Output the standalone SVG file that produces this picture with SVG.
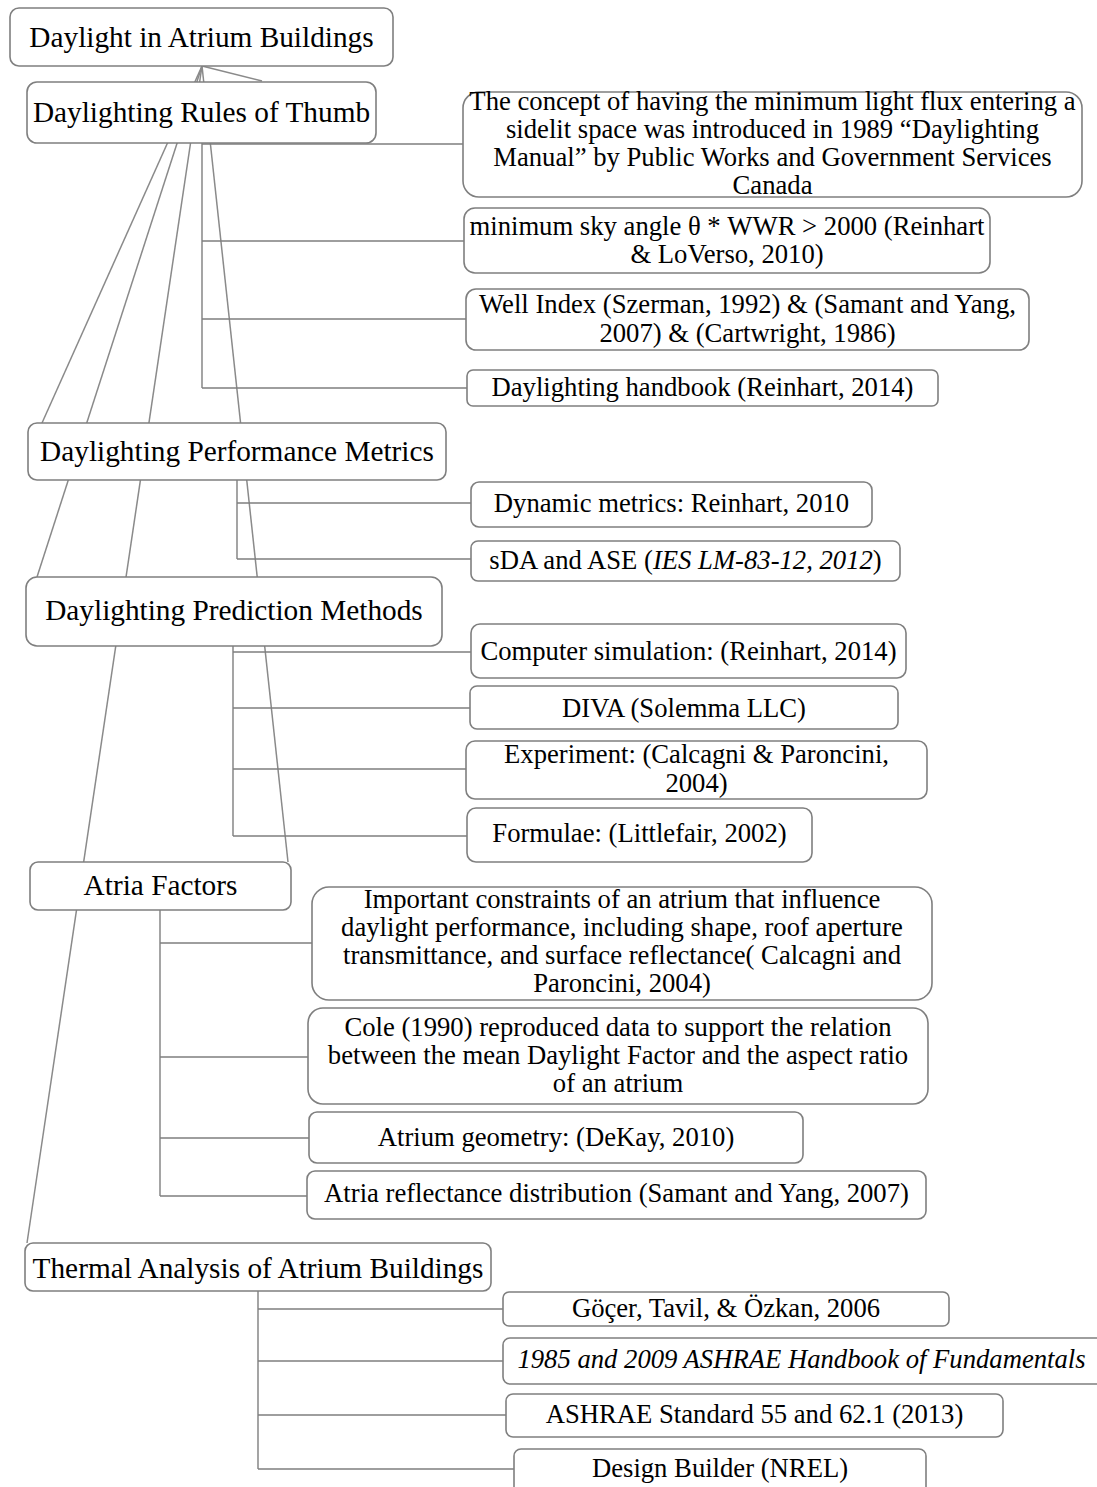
<svg xmlns="http://www.w3.org/2000/svg" width="1097" height="1487" viewBox="0 0 1097 1487">
<style>
.bg{fill:#ffffff}
.box{fill:#ffffff;stroke:#7f7f7f;stroke-width:1.6}
.ln{fill:none;stroke:#7f7f7f;stroke-width:1.4}
.fan{fill:none;stroke:#8a8a8a;stroke-width:1.5}
.t1{font-family:"Liberation Serif","Times New Roman",serif;font-size:29.3px;fill:#000;text-anchor:middle}
.t2{font-family:"Liberation Serif","Times New Roman",serif;font-size:26.67px;fill:#000;text-anchor:middle}
.it{font-style:italic}
</style>
<rect class="bg" x="0" y="0" width="1097" height="1487"/>
<g id="connectors">
  <line class="fan" x1="202" y1="66" x2="262" y2="81"/>
  <line class="fan" x1="202" y1="66" x2="42" y2="423" stroke-width="1.9" stroke="#9a9a9a"/>
  <line class="fan" x1="202" y1="66" x2="37" y2="577"/>
  <line class="fan" x1="202" y1="66" x2="27" y2="1243"/>
  <line class="fan" x1="202" y1="66" x2="288" y2="862"/>
  <path class="ln" d="M202 143 V388 M202 144 H463 M202 241 H464 M202 319 H466 M202 388 H467"/>
  <path class="ln" d="M237 480 V559 M237 503 H471 M237 559 H471"/>
  <path class="ln" d="M233 646 V836 M233 652 H471 M233 708 H470 M233 769 H466 M233 836 H467"/>
  <path class="ln" d="M160 910 V1196 M160 943 H312 M160 1057 H308 M160 1138 H309 M160 1196 H307"/>
  <path class="ln" d="M258 1291 V1469 M258 1309 H503 M258 1361 H503 M258 1415 H506 M258 1469 H514"/>
</g>
<g id="root">
  <rect class="box" x="10" y="8" width="383" height="58" rx="9"/>
  <text class="t1" x="201.5" y="47">Daylight in Atrium Buildings</text>
</g>
<g id="rules">
  <rect class="box" x="27" y="82" width="349" height="61" rx="10"/>
  <text class="t1" x="201.5" y="122">Daylighting Rules of Thumb</text>
</g>
<g id="rules-concept">
  <rect class="box" x="463" y="92" width="619" height="105" rx="16"/>
  <text class="t2"><tspan x="772.5" y="110">The concept of having the minimum light flux entering a</tspan><tspan x="772.5" y="138">sidelit space was introduced in 1989 “Daylighting</tspan><tspan x="772.5" y="166">Manual” by Public Works and Government Services</tspan><tspan x="772.5" y="194">Canada</tspan></text>
</g>
<g id="rules-sky">
  <rect class="box" x="464" y="208" width="526" height="65" rx="11"/>
  <text class="t2"><tspan x="727" y="235">minimum sky angle θ * WWR &gt; 2000 (Reinhart</tspan><tspan x="727" y="263">&amp; LoVerso, 2010)</tspan></text>
</g>
<g id="rules-well">
  <rect class="box" x="466" y="289" width="563" height="61" rx="10"/>
  <text class="t2"><tspan x="747.5" y="313">Well Index (Szerman, 1992) &amp; (Samant and Yang,</tspan><tspan x="747.5" y="342">2007) &amp; (Cartwright, 1986)</tspan></text>
</g>
<g id="rules-handbook">
  <rect class="box" x="467" y="370" width="471" height="36" rx="6"/>
  <text class="t2" x="702.5" y="396">Daylighting handbook (Reinhart, 2014)</text>
</g>
<g id="perf">
  <rect class="box" x="28" y="423" width="418" height="57" rx="9"/>
  <text class="t1" x="237" y="461">Daylighting Performance Metrics</text>
</g>
<g id="perf-dynamic">
  <rect class="box" x="471" y="482" width="401" height="45" rx="8"/>
  <text class="t2" x="671.5" y="512">Dynamic metrics: Reinhart, 2010</text>
</g>
<g id="perf-sda">
  <rect class="box" x="471" y="541" width="429" height="40" rx="7"/>
  <text class="t2" x="685.5" y="569">sDA and ASE (<tspan class="it">IES LM-83-12, 2012</tspan>)</text>
</g>
<g id="pred">
  <rect class="box" x="26" y="577" width="416" height="69" rx="11"/>
  <text class="t1" x="234" y="620">Daylighting Prediction Methods</text>
</g>
<g id="pred-sim">
  <rect class="box" x="471" y="624" width="435" height="54" rx="9"/>
  <text class="t2" x="688.5" y="660">Computer simulation: (Reinhart, 2014)</text>
</g>
<g id="pred-diva">
  <rect class="box" x="470" y="686" width="428" height="43" rx="7"/>
  <text class="t2" x="684" y="717">DIVA (Solemma LLC)</text>
</g>
<g id="pred-experiment">
  <rect class="box" x="466" y="741" width="461" height="58" rx="9"/>
  <text class="t2"><tspan x="696.5" y="763">Experiment: (Calcagni &amp; Paroncini,</tspan><tspan x="696.5" y="792">2004)</tspan></text>
</g>
<g id="pred-formulae">
  <rect class="box" x="467" y="808" width="345" height="54" rx="9"/>
  <text class="t2" x="639.5" y="842">Formulae: (Littlefair, 2002)</text>
</g>
<g id="atria">
  <rect class="box" x="30" y="862" width="261" height="48" rx="8"/>
  <text class="t1" x="160.5" y="895">Atria Factors</text>
</g>
<g id="atria-constraints">
  <rect class="box" x="312" y="887" width="620" height="113" rx="17"/>
  <text class="t2"><tspan x="622" y="908">Important constraints of an atrium that influence</tspan><tspan x="622" y="936">daylight performance, including shape, roof aperture</tspan><tspan x="622" y="964">transmittance, and surface reflectance( Calcagni and</tspan><tspan x="622" y="992">Paroncini, 2004)</tspan></text>
</g>
<g id="atria-cole">
  <rect class="box" x="308" y="1008" width="620" height="96" rx="15"/>
  <text class="t2"><tspan x="618" y="1036">Cole (1990) reproduced data to support the relation</tspan><tspan x="618" y="1064">between the mean Daylight Factor and the aspect ratio</tspan><tspan x="618" y="1092">of an atrium</tspan></text>
</g>
<g id="atria-geometry">
  <rect class="box" x="309" y="1112" width="494" height="51" rx="8"/>
  <text class="t2" x="556" y="1146">Atrium geometry: (DeKay, 2010)</text>
</g>
<g id="atria-reflectance">
  <rect class="box" x="307" y="1171" width="619" height="48" rx="8"/>
  <text class="t2" x="616.5" y="1202">Atria reflectance distribution (Samant and Yang, 2007)</text>
</g>
<g id="thermal">
  <rect class="box" x="25" y="1243" width="466" height="48" rx="8"/>
  <text class="t1" x="258" y="1278">Thermal Analysis of Atrium Buildings</text>
</g>
<g id="thermal-gocer">
  <rect class="box" x="503" y="1292" width="446" height="34" rx="6"/>
  <text class="t2" x="726" y="1317">Göçer, Tavil, &amp; Özkan, 2006</text>
</g>
<g id="thermal-ashrae-handbook">
  <rect class="box" x="503" y="1338" width="600" height="46" rx="7"/>
  <text class="t2 it" x="801.5" y="1368">1985 and 2009 ASHRAE Handbook of Fundamentals</text>
</g>
<g id="thermal-ashrae-standard">
  <rect class="box" x="506" y="1394" width="497" height="43" rx="7"/>
  <text class="t2" x="754.5" y="1423">ASHRAE Standard 55 and 62.1 (2013)</text>
</g>
<g id="thermal-designbuilder">
  <rect class="box" x="514" y="1449" width="412" height="45" rx="7"/>
  <text class="t2" x="720" y="1477">Design Builder (NREL)</text>
</g>
</svg>
